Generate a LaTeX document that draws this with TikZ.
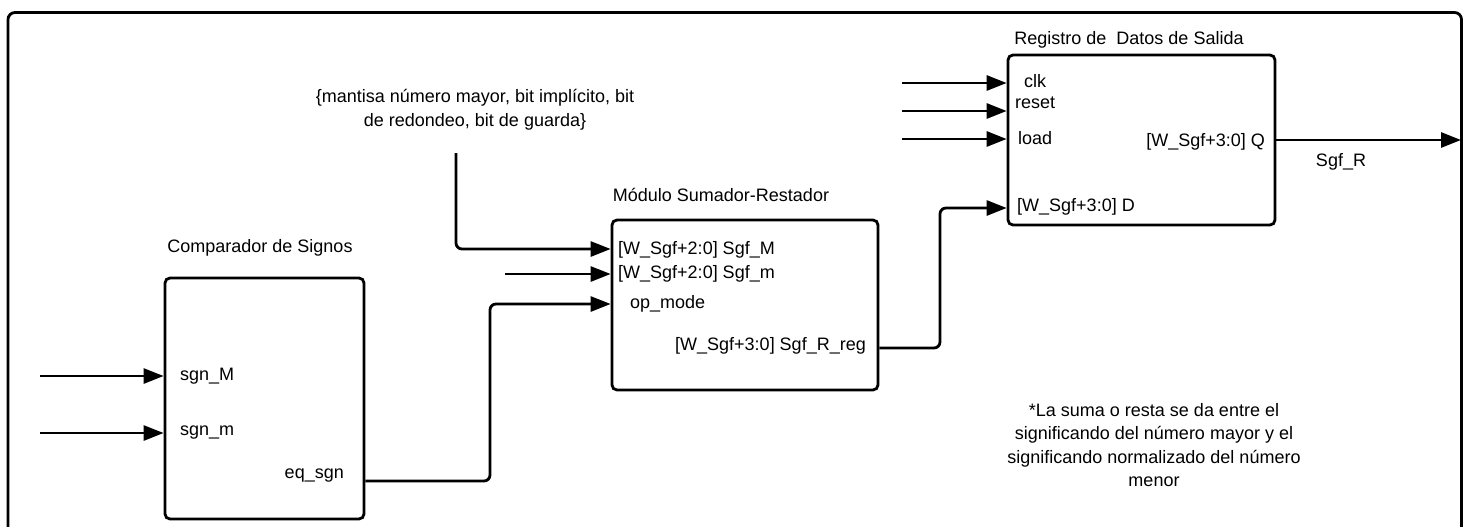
\documentclass[tikz,border=0pt]{standalone}
\usepackage{fontspec}
\setmainfont{Liberation Sans}
\usetikzlibrary{arrows.meta}
\begin{document}
\begin{tikzpicture}[x=1pt,y=-1pt,
 lw/.style={line width=2.8pt},
 blk/.style={draw,lw,rounded corners=5pt,inner sep=0pt},
 arr/.style={lw,-{Triangle[length=20pt,width=15pt]}},
 wire/.style={rounded corners=6pt},
 lbl/.style={inner sep=0pt,font=\fontsize{18}{24}\selectfont},
]
\useasboundingbox (0,0) rectangle (1468,527);
\begin{scope}
\clip (0,0) rectangle (1468,527);
\draw[lw,rounded corners=7pt] (8,12.5) rectangle (1461.5,580);
\end{scope}

% blocks
\node[blk,minimum width=199pt,minimum height=241pt] (comp) at (264.5,398.5) {};
\node[blk,minimum width=266pt,minimum height=170pt] (sum) at (745,305) {};
\node[blk,minimum width=267pt,minimum height=170pt] (reg) at (1141.5,140) {};

% titles
\node[lbl] (tcomp) at (260,248) {Comparador de Signos};
\node[lbl] (tsum) at (721,195) {Módulo Sumador-Restador};
\node[lbl] (treg) at (1129,40) {Registro de\ \ Datos de Salida};

% port labels
\node[lbl,anchor=west] (lsgnM) at (180,376) {sgn\_M};
\node[lbl,anchor=west] (lsgnm) at (180,433) {sgn\_m};
\node[lbl,anchor=east] (leq) at (344,476) {eq\_sgn};
\node[lbl,anchor=west] (lSM) at (618,250) {[W\_Sgf+2:0] Sgf\_M};
\node[lbl,anchor=west] (lSm) at (618,274) {[W\_Sgf+2:0] Sgf\_m};
\node[lbl,anchor=west] (lop) at (630,304) {op\_mode};
\node[lbl,anchor=east] (lR) at (866,346) {[W\_Sgf+3:0] Sgf\_R\_reg};
\node[lbl,anchor=west] (lclk) at (1024,81) {clk};
\node[lbl,anchor=west] (lrst) at (1015,103) {reset};
\node[lbl,anchor=west] (lload) at (1018,138) {load};
\node[lbl,anchor=west] (lD) at (1017,207) {[W\_Sgf+3:0] D};
\node[lbl,anchor=east] (lQ) at (1265,142) {[W\_Sgf+3:0] Q};
\node[lbl] (lSgfR) at (1341,162) {Sgf\_R};

% free texts
\node[lbl,align=center] (tin) at (475,110) {\{mantisa número mayor, bit implícito, bit\\de redondeo, bit de guarda\}};
\node[lbl,align=center,font=\fontsize{18}{23.5}\selectfont] (tnote) at (1154,445) {*La suma o resta se da entre el\\significando del número mayor y el\\significando normalizado del número\\menor};

% free ends
\coordinate (inM) at (40,376);
\coordinate (inm) at (40,433);
\coordinate (mtop) at (456,153);
\coordinate (mmin) at (505,274);
\coordinate (clkin) at (902,83);
\coordinate (rstin) at (902,111);
\coordinate (loadin) at (902,139);
\coordinate (qout) at (1461,140);
\coordinate (b1) at (490,304);
\coordinate (b2) at (940,208);

% connectors
\draw[arr] (inM) -- (comp.west |- inM);
\draw[arr] (inm) -- (comp.west |- inm);
\draw[arr,wire] (mtop) |- (sum.west |- 0,249);
\draw[arr] (mmin) -- (sum.west |- mmin);
\draw[arr,wire] (comp.east |- 0,481) -| (b1) -- (sum.west |- b1);
\draw[arr,wire] (sum.east |- 0,348) -| (b2) -- (reg.west |- b2);
\draw[arr] (clkin) -- (reg.west |- clkin);
\draw[arr] (rstin) -- (reg.west |- rstin);
\draw[arr] (loadin) -- (reg.west |- loadin);
\draw[arr] (reg.east |- qout) -- (qout);
\end{tikzpicture}
\end{document}
